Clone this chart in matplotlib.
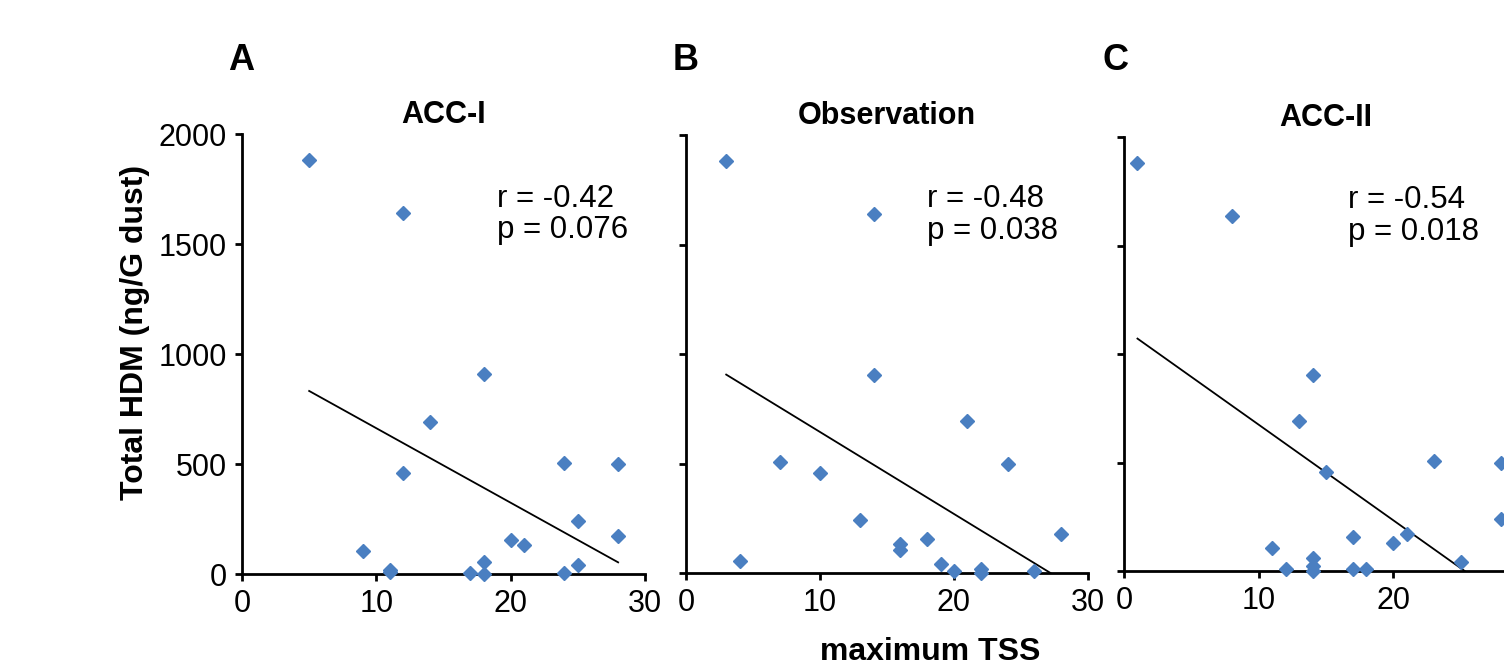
import numpy as np
import matplotlib
matplotlib.use('Agg')
import matplotlib.pyplot as plt

# --- 1. Data ---
panel_letters = ['A', 'B', 'C']
panel_titles = ['ACC-I', 'Observation', 'ACC-II']

tss_a = [5, 12, 18, 14, 12, 24, 28, 25, 28, 20, 21, 9, 18, 25, 11, 11, 17, 18, 24]
hdm_a = [1882, 1639, 907, 692, 457, 506, 498, 239, 174, 155, 130, 105, 55, 41, 18, 8, 6, 0, 6]

tss_b = [3, 14, 14, 21, 7, 10, 24, 13, 28, 18, 16, 16, 4, 19, 20, 22, 22, 26]
hdm_b = [1881, 1637, 906, 693, 507, 457, 497, 241, 177, 157, 134, 104, 53, 43, 9, 20, 0, 8]

tss_c = [1, 8, 14, 13, 15, 23, 28, 28, 21, 17, 20, 11, 14, 25, 12, 14, 14, 17, 18]
hdm_c = [1880, 1636, 905, 693, 455, 507, 498, 241, 172, 157, 131, 106, 58, 41, 8, 21, 0, 8, 8]

# regression line end points (x, y) as drawn
fit_x = [[5, 28], [3, 27.2], [1, 25.3]]
fit_y = [[832, 53], [906, 0], [1071, 0]]

r_values = ['-0.42', '-0.48', '-0.54']
p_values = ['0.076', '0.038', '0.018']

x_ticks = [0, 10, 20, 30]
y_ticks = [0, 500, 1000, 1500, 2000]

# --- 2. Style ---
plt.rcParams['font.family'] = ['Liberation Sans', 'DejaVu Sans']
MARKER_COLOR = '#4a7fc1'

fig = plt.figure(figsize=(15.04, 6.64), dpi=100)

# axes rectangles in figure fraction (third panel runs off the right edge)
rects = [
    [242 / 1504, 90 / 664, 403 / 1504, 440 / 664],
    [686 / 1504, 91 / 664, 402 / 1504, 438 / 664],
    [1124 / 1504, 93 / 664, 404 / 1504, 434 / 664],
]
text_x = [19.0, 18.0, 16.6]

series = [(tss_a, hdm_a), (tss_b, hdm_b), (tss_c, hdm_c)]

for i, (xs, ys) in enumerate(series):
    ax = fig.add_axes(rects[i])
    ax.plot(xs, ys, linestyle='none', marker='D', markersize=6.8,
            color=MARKER_COLOR, clip_on=False, zorder=3)
    ax.plot(fit_x[i], fit_y[i], color='black', lw=1.3, zorder=2)

    ax.set_xlim(0, 30)
    ax.set_ylim(0, 2000)
    ax.set_xticks(x_ticks)
    ax.set_yticks(y_ticks)
    if i > 0:
        ax.set_yticklabels([])
    if i == 2:
        # the last label falls outside the picture
        ax.set_xticklabels([str(t) for t in x_ticks[:-1]] + [''])

    for side in ['top', 'right']:
        ax.spines[side].set_visible(False)
    for side in ['left', 'bottom']:
        ax.spines[side].set_linewidth(2)
    ax.tick_params(direction='out', length=5, width=2, labelsize=22, pad=6)

    ax.set_title(panel_titles[i], fontsize=22, fontweight='bold', pad=8)
    # baseline refers to the last (p) line
    ax.text(text_x[i], 1527, f'r = {r_values[i]}\np = {p_values[i]}',
            fontsize=22.5, va='baseline', ha='left', linespacing=1.05)

# --- 3. Shared labels and panel letters ---
letter_x = [241, 686, 1115]
for i, letter in enumerate(panel_letters):
    fig.text(letter_x[i] / 1504, (664 - 70) / 664, letter, fontsize=26,
             fontweight='bold', ha='center', va='baseline')

fig.text(135 / 1504, 0.5, 'Total HDM (ng/G dust)', rotation=90, fontsize=23,
         fontweight='bold', ha='center', va='center')
fig.text(930 / 1504, 4 / 664, 'maximum TSS', fontsize=23, fontweight='bold',
         ha='center', va='baseline')

fig.savefig('out.png', dpi=100)
